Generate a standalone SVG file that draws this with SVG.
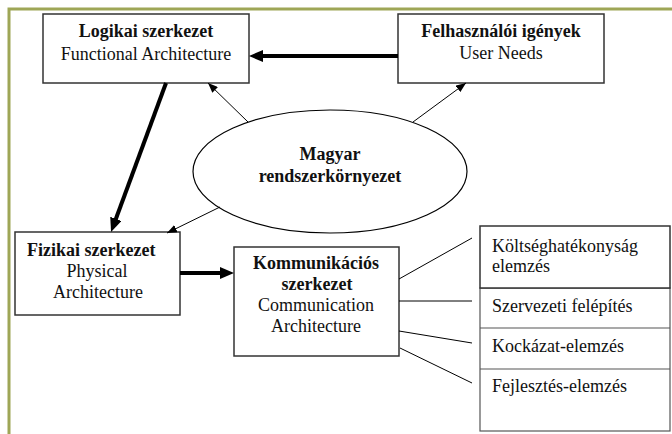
<svg xmlns="http://www.w3.org/2000/svg" width="672" height="434" viewBox="0 0 672 434">
<style>
.frame{fill:none;stroke:#9EA656;stroke-width:3}
.box{fill:#fff;stroke:#333;stroke-width:1.5}
.sub{fill:#fff;stroke:#555;stroke-width:1.2}
.t{font-family:"Liberation Serif","Times New Roman",serif;font-size:18px;fill:#111}
.b{font-weight:bold}
.c{text-anchor:middle}
.thick{stroke:#000;stroke-width:4;fill:none}
.thin{stroke:#000;stroke-width:1;fill:none}
</style>
<defs>
<marker id="bigHead" markerUnits="userSpaceOnUse" markerWidth="14" markerHeight="12" refX="2" refY="6" orient="auto">
<path d="M0,0 L14,6 L0,12 z" fill="#000"/>
</marker>
<marker id="smallHead" markerUnits="userSpaceOnUse" markerWidth="10" markerHeight="8" refX="10" refY="4" orient="auto">
<path d="M0,0 L10,4 L0,8 z" fill="#000"/>
</marker>
</defs>
<rect width="672" height="434" fill="#fff"/>
<path class="frame" d="M9,434 L9,9 L672,9"/>

<g id="ellipse-node">
<ellipse cx="330" cy="171.5" rx="137" ry="61.5" fill="#fff" stroke="#000" stroke-width="1.2"/>
<text class="t b c" x="330" y="160">Magyar</text>
<text class="t b c" x="330" y="182">rendszerkörnyezet</text>
</g>

<g id="logikai">
<rect class="box" x="43" y="14" width="206" height="69"/>
<text class="t b c" x="146" y="37">Logikai szerkezet</text>
<text class="t c" x="146" y="60">Functional Architecture</text>
</g>

<g id="felhasznaloi">
<rect class="box" x="398" y="14" width="206" height="69"/>
<text class="t b c" x="501" y="37">Felhasználói igények</text>
<text class="t c" x="501" y="59">User Needs</text>
</g>

<g id="fizikai">
<rect class="box" x="15" y="232" width="165" height="83"/>
<text class="t b" x="27" y="256">Fizikai szerkezet</text>
<text class="t c" x="97" y="277">Physical</text>
<text class="t c" x="98" y="298">Architecture</text>
</g>

<g id="kommunikacios">
<rect class="box" x="234" y="247" width="165" height="109"/>
<text class="t b c" x="316" y="269">Kommunikációs</text>
<text class="t b c" x="317" y="290">szerkezet</text>
<text class="t c" x="316" y="311">Communication</text>
<text class="t c" x="316" y="332">Architecture</text>
</g>

<g id="analyses">
<rect class="sub" x="480" y="288" width="190" height="143"/>
<line class="sub" x1="480" y1="328" x2="670" y2="328"/>
<line class="sub" x1="480" y1="369" x2="670" y2="369"/>
<rect class="box" x="480" y="226" width="190" height="62"/>
<text class="t" x="492" y="252">Költséghatékonyság</text>
<text class="t" x="492" y="272">elemzés</text>
<text class="t" x="492" y="312">Szervezeti felépítés</text>
<text class="t" x="492" y="352">Kockázat-elemzés</text>
<text class="t" x="492" y="392">Fejlesztés-elemzés</text>
</g>

<g id="connectors">
<line class="thick" x1="398" y1="56" x2="261" y2="56" marker-end="url(#bigHead)"/>
<line class="thick" x1="166" y1="83" x2="115.2" y2="220.7" marker-end="url(#bigHead)"/>
<line class="thick" x1="180" y1="273" x2="222" y2="273" marker-end="url(#bigHead)"/>
<line class="thin" x1="248" y1="122" x2="208" y2="83" marker-end="url(#smallHead)"/>
<line class="thin" x1="413" y1="122" x2="466" y2="83" marker-end="url(#smallHead)"/>
<line class="thin" x1="220" y1="207" x2="167" y2="233" marker-end="url(#smallHead)"/>
<line class="thin" x1="399" y1="279" x2="472" y2="238"/>
<line class="thin" x1="399" y1="301" x2="472" y2="301"/>
<line class="thin" x1="399" y1="331" x2="472" y2="343"/>
<line class="thin" x1="400" y1="348" x2="472" y2="383"/>
</g>
</svg>
